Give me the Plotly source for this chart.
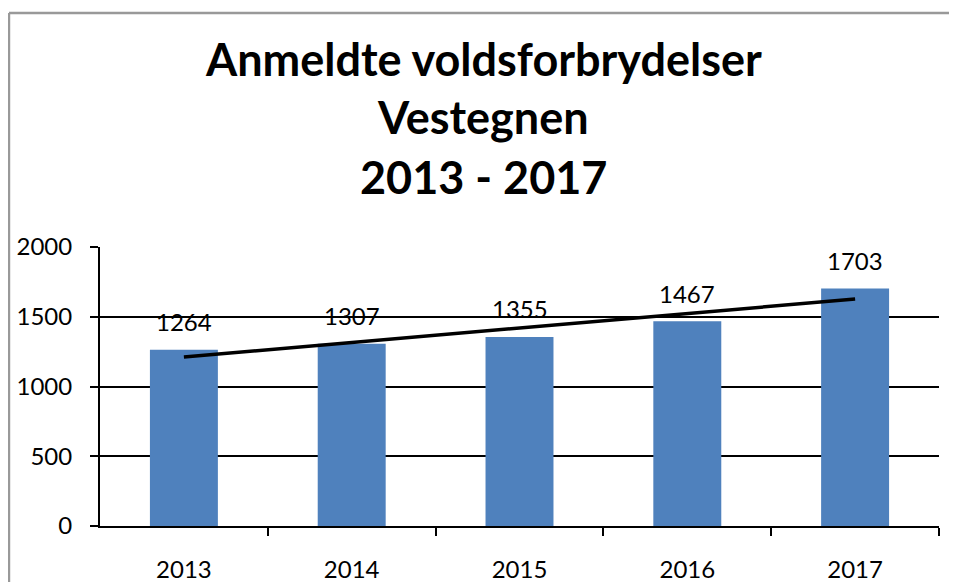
import numpy as np
import plotly.graph_objects as go

years = ["2013", "2014", "2015", "2016", "2017"]
values = [1264, 1307, 1355, 1467, 1703]
title_lines = ["Anmeldte voldsforbrydelser", "Vestegnen", "2013 - 2017"]
y_ticks = [0, 500, 1000, 1500, 2000]

# linear trendline (as Excel computes it)
idx = np.arange(len(values))
slope, intercept = np.polyfit(idx, values, 1)
trend = slope * idx + intercept

FONT = "Lato"
fig = go.Figure()
fig.add_trace(go.Bar(x=idx, y=values, marker=dict(color="#4F81BD", line=dict(width=0)),
                     width=0.405, showlegend=False, hoverinfo="y"))
fig.add_trace(go.Scatter(x=idx, y=trend, mode="lines", line=dict(color="black", width=3.5),
                         showlegend=False))

annotations = []
for i, v in zip(idx, values):
    annotations.append(dict(x=int(i), y=v, xref="x", yref="y", text=str(v), showarrow=False,
                            yshift=28, font=dict(family=FONT, size=24, color="black")))
for line, ypos in zip(title_lines, [1.675, 1.465, 1.25]):
    annotations.append(dict(x=0.4565, y=ypos, xref="paper", yref="paper", text="<b>%s</b>" % line,
                            showarrow=False, xanchor="center", yanchor="middle",
                            font=dict(family=FONT, size=45, color="black")))

border = dict(color="#999999", width=2.5)
# the page has an 8px body margin, so the figure is sized/placed to compensate
fig.update_layout(
    width=949, height=574,
    margin=dict(l=92, r=18, t=239, b=56, autoexpand=False),
    paper_bgcolor="white", plot_bgcolor="white",
    annotations=annotations,
    shapes=[dict(type="line", xref="paper", yref="paper", x0=-0.1085, x1=1.0205, y0=1.8387, y1=1.8387,
                 line=border, layer="below"),
            dict(type="line", xref="paper", yref="paper", x0=-0.1085, x1=-0.1085, y0=-0.3, y1=1.8387,
                 line=border, layer="below")],
    xaxis=dict(range=[-0.5, 4.5], tickvals=list(idx), ticktext=years,
               showgrid=False, showline=True, linecolor="black", linewidth=2,
               ticks="", zeroline=False,
               ticklabelstandoff=21,
               tickfont=dict(family=FONT, size=24, color="black"),
               minor=dict(tickvals=[0.5, 1.5, 2.5, 3.5, 4.5], ticks="outside", ticklen=8,
                          tickwidth=2, tickcolor="black", showgrid=False)),
    yaxis=dict(range=[0, 2000], tickvals=y_ticks, showgrid=True, gridcolor="black", gridwidth=1.5,
               showline=True, linecolor="black", linewidth=2, zeroline=False,
               ticks="outside", ticklen=8, tickwidth=2, tickcolor="black",
               ticklabelstandoff=13,
               tickfont=dict(family=FONT, size=24, color="black")),
)
fig.write_html("out.html", post_script="document.documentElement.style.overflow='hidden';document.body.style.overflow='hidden';")
